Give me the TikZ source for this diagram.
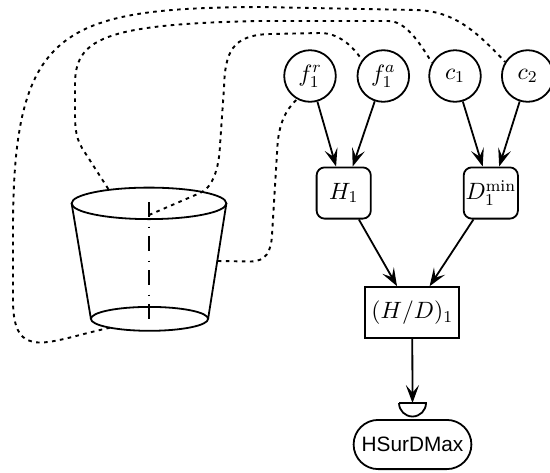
\RequirePackage{fix-cm}
\documentclass[tikz,border=0pt]{standalone}
\usepackage{fontspec}
\setsansfont{Liberation Sans}
\usetikzlibrary{arrows.meta}

\newcommand{\mathsz}{\fontsize{11.8}{14}\selectfont}

\begin{document}
\begin{tikzpicture}[x=0.5pt, y=-0.5pt, line width=0.9pt,
  var/.style={circle, draw, minimum size=25.8pt, inner sep=0pt, font=\mathsz},
  fn/.style={rectangle, draw, rounded corners=4pt, minimum width=27.1pt,
             minimum height=25.6pt, inner sep=0.4pt, font=\mathsz},
  op/.style={rectangle, draw, minimum width=47.1pt, minimum height=25.6pt,
             inner sep=1pt, font=\mathsz},
  goal/.style={rectangle, draw, rounded corners=12.3pt, minimum width=58.9pt,
               minimum height=24.6pt, inner sep=0pt,
               font=\sffamily\fontsize{10.4}{12}\selectfont},
  flow/.style={-{Stealth[length=9pt, width=6.6pt, inset=3.8pt]}},
  link/.style={line width=0.95pt, dash pattern=on 1.8pt off 2.2pt},
  axisline/.style={dash pattern=on 7.5pt off 4.75pt on 0.75pt off 4pt}
]
\useasboundingbox (0,0) rectangle (550,472);

% inputs
\node[var] (fr) at (310,76)   {$f_1^r$};
\node[var] (fa) at (383.3,76) {$f_1^a$};
\node[var] (c1) at (455,76)   {$c_1$};
\node[var] (c2) at (527.7,76) {$c_2$};

% intermediate computations
\node[fn] (H) at (343.7,193) {$H_1$};
\node[fn] (D) at (490.8,193) {$D_1^{\min}$};
\node[op] (HD) at (412.2,312.7) {$(H/D)_1$};

% goal
\node[goal] (G) at (412.5,444.5) {HSurDMax};
\coordinate (cup) at (412.5,403);
\draw (cup) ++(-13.5,0) -- ++(27,0) arc[start angle=0, end angle=180, radius=13.5];

\draw[flow] (fr) -- (H);
\draw[flow] (fa) -- (H);
\draw[flow] (c1) -- (D);
\draw[flow] (c2) -- (D);
\draw[flow] (H) -- (HD);
\draw[flow] (D) -- (HD);
\draw[flow] (HD) -- (cup);

% truncated cone
\draw (149,203.35) ellipse [x radius=77.4, y radius=15.75];
\draw (149.5,318.85) ellipse [x radius=58.6, y radius=11.95];
\draw (71.6,203.35) -- (90.9,318.85);
\draw (226.4,203.35) -- (208.1,318.85);
\draw[axisline] (149,202) -- (149,318.5);

\coordinate (cb)  at (110,327.7);
\coordinate (ctb) at (108.3,189);
\coordinate (axt) at (149,215);
\coordinate (cr)  at (217.8,261);

% dotted links between the cone and the inputs
\draw[link] (cb) .. controls (48,341) and (13,363) .. (13,300) -- (13,230)
  .. controls (13,30) and (60,8) .. (260,7) -- (415,10)
  .. controls (454,10.7) and (476,31) .. (c2.148);
\draw[link] (ctb) -- (82,148) .. controls (75,136) and (75,125) .. (75,110) -- (75,85)
  .. controls (75,40) and (100,24) .. (260,21) -- (388,21)
  .. controls (405,21) and (418,40) .. (c1.150);
\draw[link] (axt) -- (200,193) .. controls (212,188) and (219,170) .. (220,145) -- (224,88)
  .. controls (225,52) and (232,35) .. (270,34) -- (320,33)
  .. controls (338,33) and (352,45) .. (fa.143);
\draw[link] (cr) -- (250,261.5) .. controls (266,261.5) and (271,252) .. (272,235)
  -- (277.5,145) .. controls (279,125) and (285,110) .. (fr.241);
\end{tikzpicture}
\end{document}
